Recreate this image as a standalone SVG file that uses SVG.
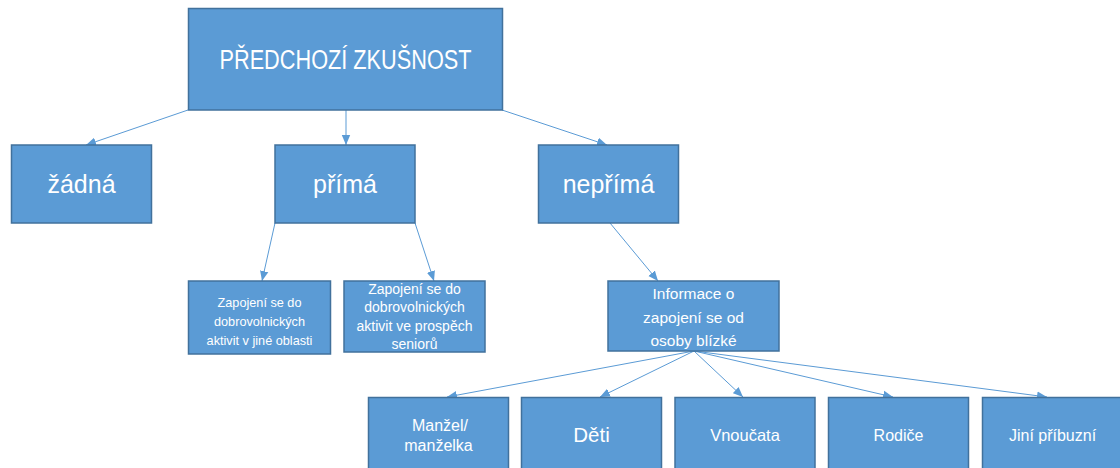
<svg xmlns="http://www.w3.org/2000/svg" width="1120" height="468" viewBox="0 0 1120 468">
<defs>
<style>
.box{fill:#5B9BD5;stroke:#41719C;stroke-width:1.5}
.t{fill:#FFFFFF;font-family:"Liberation Sans",Arial,sans-serif;text-anchor:middle}
.c{stroke:#5B9BD5;stroke-width:1;fill:none;marker-end:url(#ah)}
</style>
<marker id="ah" markerUnits="userSpaceOnUse" markerWidth="10" markerHeight="10" viewBox="0 0 10 10" refX="10" refY="5" orient="auto">
<path d="M0,0.8 L10,5 L0,9.2 Z" fill="#5B9BD5"/>
</marker>
</defs>
<rect width="1120" height="468" fill="#FFFFFF"/>
<g id="connectors">
<line class="c" x1="188" y1="110" x2="86" y2="145"/>
<line class="c" x1="346" y1="110" x2="346" y2="145"/>
<line class="c" x1="502" y1="110" x2="607" y2="145"/>
<line class="c" x1="275" y1="223" x2="262" y2="281"/>
<line class="c" x1="415" y1="223" x2="434" y2="281"/>
<line class="c" x1="610" y1="223" x2="658" y2="281"/>
<line class="c" x1="694" y1="351" x2="447" y2="397"/>
<line class="c" x1="694" y1="351" x2="600" y2="397"/>
<line class="c" x1="694" y1="351" x2="743" y2="397"/>
<line class="c" x1="694" y1="351" x2="893" y2="397"/>
<line class="c" x1="694" y1="351" x2="1047" y2="397"/>
</g>
<g id="root">
<rect class="box" x="188.5" y="8.5" width="314" height="101.5"/>
<text class="t" x="345.5" y="69" font-size="27" textLength="252" lengthAdjust="spacingAndGlyphs">PŘEDCHOZÍ ZKUŠNOST</text>
</g>
<g id="zadna">
<rect class="box" x="11.5" y="145" width="140" height="78"/>
<text class="t" x="81.5" y="193" font-size="25">žádná</text>
</g>
<g id="prima">
<rect class="box" x="275" y="145" width="140" height="78"/>
<text class="t" x="345" y="193" font-size="25">přímá</text>
</g>
<g id="neprima">
<rect class="box" x="538.5" y="145" width="140" height="78"/>
<text class="t" x="608.5" y="193" font-size="25">nepřímá</text>
</g>
<g id="jina-oblast">
<rect class="box" x="188.5" y="281" width="142" height="73"/>
<text class="t" x="259.5" y="307" font-size="12.7">Zapojení  se do</text>
<text class="t" x="259.5" y="326" font-size="12.7">dobrovolnických</text>
<text class="t" x="259.5" y="345" font-size="12.7">aktivit v jiné oblasti</text>
</g>
<g id="seniori">
<rect class="box" x="344" y="281" width="141" height="71"/>
<text class="t" x="414.5" y="294" font-size="14">Zapojení se do</text>
<text class="t" x="414.5" y="312" font-size="14">dobrovolnických</text>
<text class="t" x="414.5" y="331" font-size="14">aktivit ve prospěch</text>
<text class="t" x="414.5" y="349" font-size="14">seniorů</text>
</g>
<g id="informace">
<rect class="box" x="608" y="281" width="171" height="70"/>
<text class="t" x="693.5" y="299" font-size="15.5">Informace o</text>
<text class="t" x="693.5" y="323" font-size="15.5">zapojení se od</text>
<text class="t" x="693.5" y="346" font-size="15.5">osoby blízké</text>
</g>
<g id="manzel">
<rect class="box" x="368.5" y="397.5" width="140" height="80"/>
<text class="t" x="440" y="431" font-size="16">Manžel/</text>
<text class="t" x="438.5" y="451" font-size="16">manželka</text>
</g>
<g id="deti">
<rect class="box" x="521.5" y="397.5" width="140" height="80"/>
<text class="t" x="591.5" y="442" font-size="20.5">Děti</text>
</g>
<g id="vnoucata">
<rect class="box" x="675" y="397.5" width="140" height="80"/>
<text class="t" x="745" y="441" font-size="16.5">Vnoučata</text>
</g>
<g id="rodice">
<rect class="box" x="828.5" y="397.5" width="140" height="80"/>
<text class="t" x="898.5" y="441" font-size="16">Rodiče</text>
</g>
<g id="jini">
<rect class="box" x="982.5" y="397.5" width="140" height="80"/>
<text class="t" x="1052.5" y="441" font-size="16">Jiní příbuzní</text>
</g>
</svg>
